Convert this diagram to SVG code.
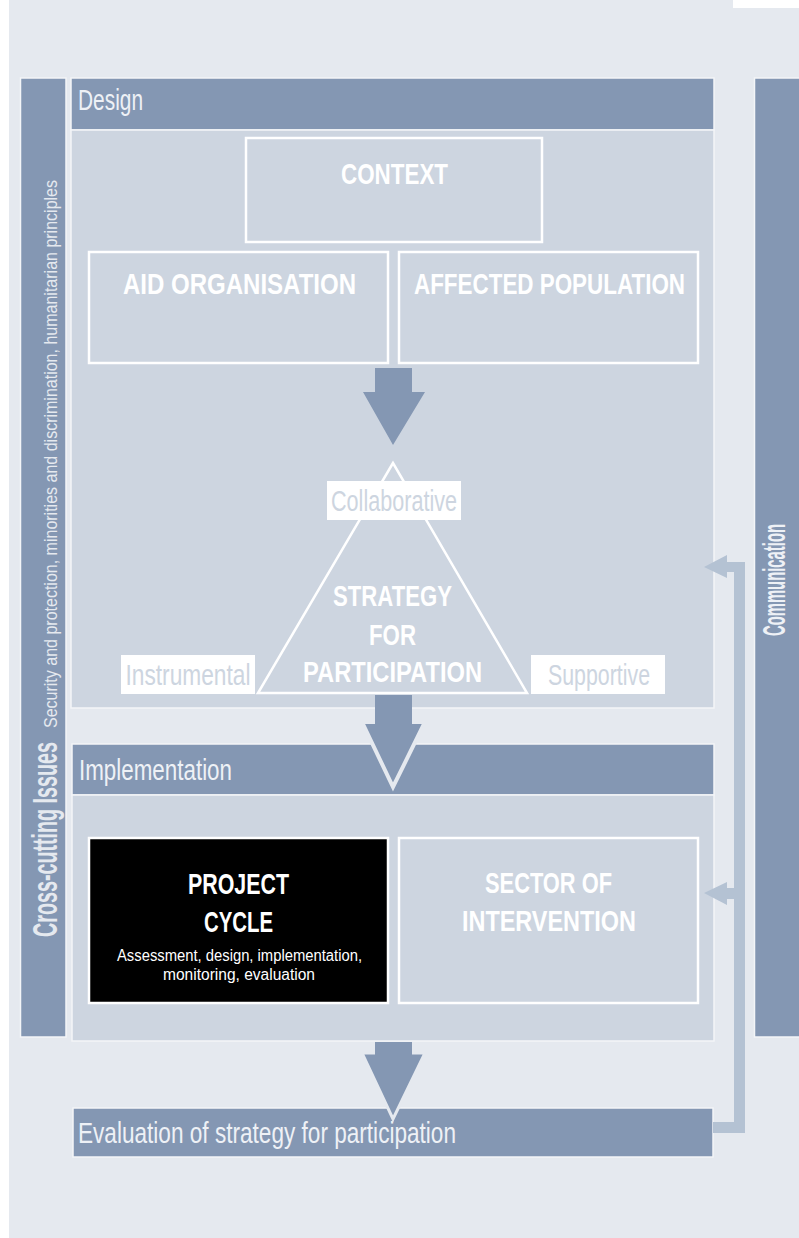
<svg xmlns="http://www.w3.org/2000/svg" width="799" height="1238" viewBox="0 0 799 1238">
<style>
.hdr{fill:#8497b3;stroke:#f3f5f8;stroke-width:1.5}
.body{fill:#cdd5e0;stroke:#f3f5f8;stroke-width:1.5}
.box{fill:none;stroke:#ffffff;stroke-width:2.5}
.lbl{fill:#ffffff}
.t{font-family:"Liberation Sans",Arial,sans-serif}
.b{font-family:"Liberation Sans",Arial,sans-serif;font-weight:bold;font-size:30px;fill:#ffffff;text-anchor:middle}
.h{font-family:"Liberation Sans",Arial,sans-serif;font-size:29px;fill:#eef1f6}
.w{font-family:"Liberation Sans",Arial,sans-serif;font-size:29px;fill:#cdd5e0;text-anchor:middle}
.arr{fill:#8497b3}
.con{fill:#b4c2d3}
</style>
<rect x="0" y="0" width="799" height="1238" fill="#ffffff"/>
<rect x="9" y="0" width="790" height="1238" fill="#e5e9ef"/>
<rect x="733" y="0" width="66" height="8" fill="#ffffff"/>

<g id="crosscutting">
<rect class="hdr" x="20.5" y="78" width="45.5" height="959"/>
<text class="t" transform="translate(57,937) rotate(-90)" font-size="35" font-weight="bold" fill="#e5e9ef" textLength="195" lengthAdjust="spacingAndGlyphs">Cross-cutting Issues</text>
<text class="t" transform="translate(57,728) rotate(-90)" font-size="18.5" fill="#e5e9ef" textLength="548" lengthAdjust="spacingAndGlyphs">Security and protection, minorities and discrimination, humanitarian principles</text>
</g>

<g id="communication">
<rect class="hdr" x="754.5" y="78" width="50" height="959"/>
<text class="t" transform="translate(785,636) rotate(-90)" font-size="32" font-weight="bold" fill="#eef1f6" textLength="112" lengthAdjust="spacingAndGlyphs">Communication</text>
</g>

<g id="design">
<rect class="hdr" x="71" y="78" width="643" height="52"/>
<rect class="body" x="71" y="130" width="643" height="578"/>
<text class="h" x="78" y="110" textLength="65" lengthAdjust="spacingAndGlyphs">Design</text>
</g>

<g id="context">
<rect class="box" x="246" y="138" width="296" height="104"/>
<text class="b" x="394.5" y="184" textLength="107" lengthAdjust="spacingAndGlyphs">CONTEXT</text>
</g>

<g id="aid-organisation">
<rect class="box" x="89" y="252" width="299" height="111"/>
<text class="b" x="239.5" y="294" textLength="233" lengthAdjust="spacingAndGlyphs">AID ORGANISATION</text>
</g>

<g id="affected-population">
<rect class="box" x="399" y="252" width="299" height="111"/>
<text class="b" x="549.5" y="294" textLength="271" lengthAdjust="spacingAndGlyphs">AFFECTED POPULATION</text>
</g>

<g id="strategy">
<polygon class="box" points="393,463 258,693 527,693"/>
<text class="b" x="392.5" y="606" textLength="119" lengthAdjust="spacingAndGlyphs">STRATEGY</text>
<text class="b" x="392.5" y="645" textLength="47" lengthAdjust="spacingAndGlyphs">FOR</text>
<text class="b" x="392.5" y="682" textLength="179" lengthAdjust="spacingAndGlyphs">PARTICIPATION</text>
</g>

<g id="collaborative">
<rect class="lbl" x="327" y="481" width="134" height="39"/>
<text class="w" x="394" y="511" textLength="126" lengthAdjust="spacingAndGlyphs">Collaborative</text>
</g>

<g id="instrumental">
<rect class="lbl" x="121" y="655" width="134" height="39"/>
<text class="w" x="188" y="685" textLength="125" lengthAdjust="spacingAndGlyphs">Instrumental</text>
</g>

<g id="supportive">
<rect class="lbl" x="531" y="655" width="134" height="39"/>
<text class="w" x="599" y="685" textLength="102" lengthAdjust="spacingAndGlyphs">Supportive</text>
</g>

<g id="implementation">
<rect class="hdr" x="72" y="744" width="642" height="51"/>
<rect class="body" x="72" y="795" width="642" height="246"/>
<text class="h" x="79" y="780" textLength="153" lengthAdjust="spacingAndGlyphs">Implementation</text>
</g>

<g id="project-cycle">
<rect x="89" y="838" width="299" height="165" fill="#000000" stroke="#ffffff" stroke-width="2.5"/>
<text class="b" x="238.5" y="894" textLength="101" lengthAdjust="spacingAndGlyphs">PROJECT</text>
<text class="b" x="238.5" y="932" textLength="69" lengthAdjust="spacingAndGlyphs">CYCLE</text>
<text class="t" x="239.5" y="961" font-size="16" fill="#ffffff" text-anchor="middle" textLength="245" lengthAdjust="spacingAndGlyphs">Assessment, design, implementation,</text>
<text class="t" x="239" y="980" font-size="16" fill="#ffffff" text-anchor="middle" textLength="152" lengthAdjust="spacingAndGlyphs">monitoring, evaluation</text>
</g>

<g id="sector">
<rect class="box" x="399" y="838" width="299" height="165"/>
<text class="b" x="548.5" y="893" textLength="127" lengthAdjust="spacingAndGlyphs">SECTOR OF</text>
<text class="b" x="549" y="931" textLength="174" lengthAdjust="spacingAndGlyphs">INTERVENTION</text>
</g>

<g id="evaluation">
<rect class="hdr" x="73" y="1108" width="640" height="49"/>
<text class="h" x="78" y="1143" font-size="30" textLength="378" lengthAdjust="spacingAndGlyphs">Evaluation of strategy for participation</text>
</g>

<g id="connectors">
<polygon class="arr" points="375,368 412,368 412,392 425,392 393,445 363,392 375,392"/>
<polygon class="arr" points="362,722 425,722 393,787" stroke="#e5e9ef" stroke-width="4" stroke-linejoin="miter"/>
<rect class="arr" x="375" y="695" width="37" height="29"/>
<polygon class="arr" points="362,1053 425,1053 393,1119" stroke="#e5e9ef" stroke-width="3" stroke-linejoin="miter"/>
<rect class="arr" x="375" y="1042" width="37" height="13"/>
<polygon class="con" points="745,562 745,1133 713,1133 713,1122 734,1122 734,572 727,572 727,578 704,567 727,555 727,562"/>
<polygon class="con" points="734,888 727,888 727,882 704,893 727,905 727,899 734,899"/>
</g>
</svg>
